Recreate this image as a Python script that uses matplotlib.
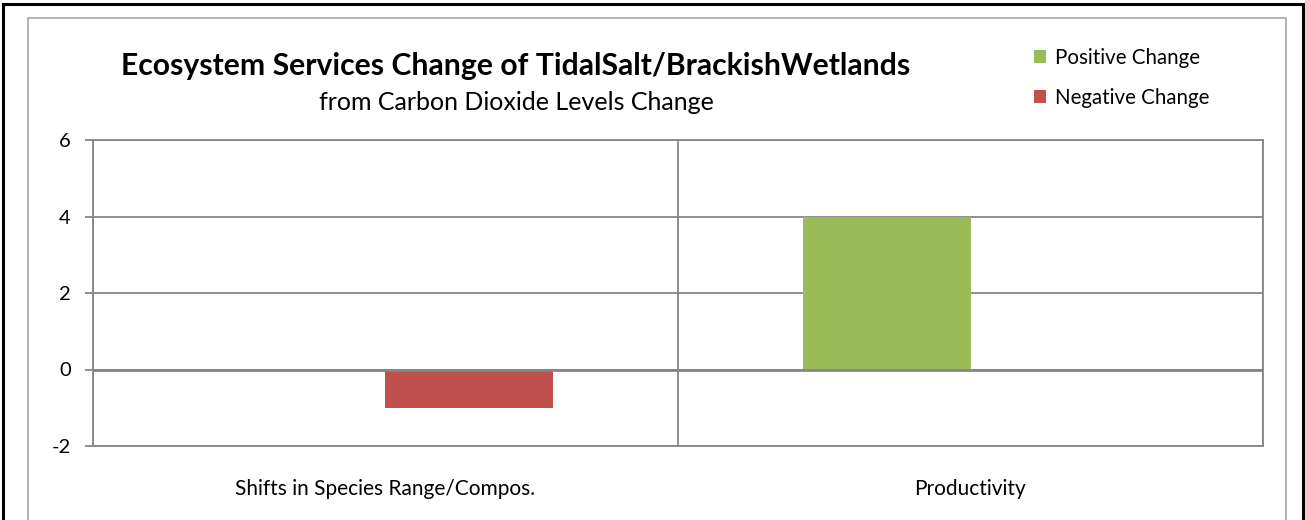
import matplotlib
matplotlib.use('Agg')
import matplotlib.pyplot as plt
from matplotlib.patches import Rectangle

categories = ["Shifts in Species Range/Compos.", "Productivity"]
positive = [0, 4]
negative = [-1, 0]
yticks = [-2, 0, 2, 4, 6]

green = '#9bbb59'
red = '#c0504d'
grid = '#868686'

plt.rcParams['font.family'] = ['Lato', 'DejaVu Sans']

W, H = 1305, 520
fig = plt.figure(figsize=(W / 100, H / 100), dpi=100)

# outer black frame and grey chart-area border (bottom runs off the image)
fig.add_artist(Rectangle((2.5 / W, -0.05), (1300.5) / W, 1.05 - 3.5 / H,
                         transform=fig.transFigure, fill=False,
                         ec='black', lw=2.2))
fig.add_artist(Rectangle((28 / W, -0.05), (1286 - 28) / W, 1.05 - 18 / H,
                         transform=fig.transFigure, fill=False,
                         ec='#a6a6a6', lw=1.2))

ax = fig.add_axes([93 / W, 1 - 446 / H, (1263 - 93) / W, (446 - 140) / H])

w = 1 / 3.5
xs = [0.5, 1.5]
ax.bar([x - w / 2 for x in xs], positive, width=w, color=green,
       label='Positive Change', zorder=3)
ax.bar([x + w / 2 for x in xs], negative, width=w, color=red,
       label='Negative Change', zorder=3)

ax.set_xlim(0, 2)
ax.set_ylim(-2, 6)
ax.set_yticks(yticks)
ax.set_yticklabels([str(v) for v in yticks], fontsize=14.5)
ax.set_xticks(xs)
ax.set_xticklabels(categories, fontsize=15)
ax.set_xticks([0, 1, 2], minor=True)
ax.tick_params(axis='x', which='both', length=0, pad=24)
ax.tick_params(axis='y', length=6, color=grid, width=1.3, pad=10)

ax.grid(axis='y', color=grid, lw=1.3, zorder=1)
ax.grid(axis='x', which='minor', color=grid, lw=1.3, zorder=1)
ax.axhline(0, color=grid, lw=2, zorder=4)
for s in ax.spines.values():
    s.set_color(grid)
    s.set_linewidth(1.3)

fig.text(516 / W, 1 - 66 / H,
         'Ecosystem Services Change of TidalSalt/BrackishWetlands',
         ha='center', va='center', fontsize=21.7, fontweight='bold')
fig.text(516 / W, 1 - 103 / H, 'from Carbon Dioxide Levels Change',
         ha='center', va='center', fontsize=18)

fig.legend(loc='upper left', bbox_to_anchor=(1015 / W, 1 - 29 / H),
           frameon=False, fontsize=14.8, handlelength=0.6, handleheight=0.6,
           handletextpad=0.45, labelspacing=1.0)

fig.savefig('out.png', dpi=100)
